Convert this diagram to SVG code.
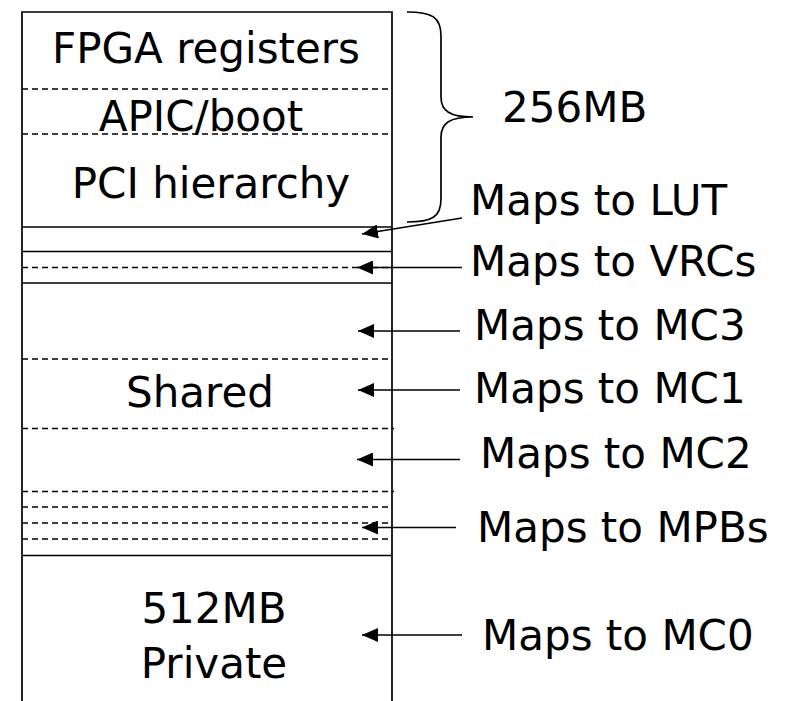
<svg xmlns="http://www.w3.org/2000/svg" width="787" height="701" viewBox="0 0 787 701">
<defs>
<style>
text{font-family:"DejaVu Sans","Liberation Sans",sans-serif;font-size:42px;fill:#000}
.solid{stroke:#000;stroke-width:1.7;fill:none}
.dash{stroke:#000;stroke-width:1.5;stroke-dasharray:6 4;fill:none}
.conn{stroke:#000;stroke-width:1.5;fill:none;marker-end:url(#ah)}
</style>
<marker id="ah" markerUnits="userSpaceOnUse" markerWidth="17" markerHeight="14" viewBox="0 0 17 14" refX="16" refY="7" orient="auto">
<path d="M0,0 L16,7 L0,14 Z" fill="#000"/>
</marker>
</defs>
<rect width="787" height="701" fill="#fff"/>
<g id="memory-map">
<path class="solid" d="M22,701 V12 H392 V701" stroke-width="2"/>
<line class="dash" x1="22" y1="89" x2="392" y2="89"/>
<line class="dash" x1="22" y1="134" x2="392" y2="134"/>
<line class="solid" x1="22" y1="227" x2="392" y2="227" stroke-width="2"/>
<line class="solid" x1="22" y1="251.5" x2="392" y2="251.5"/>
<line class="dash" x1="22" y1="267.5" x2="392" y2="267.5"/>
<line class="solid" x1="22" y1="283" x2="392" y2="283"/>
<line class="dash" x1="22" y1="359" x2="392" y2="359"/>
<line class="dash" x1="22" y1="428.5" x2="394" y2="428.5"/>
<line class="dash" x1="22" y1="491.5" x2="394" y2="491.5"/>
<line class="dash" x1="22" y1="507" x2="392" y2="507"/>
<line class="dash" x1="22" y1="523" x2="392" y2="523"/>
<line class="dash" x1="22" y1="539" x2="392" y2="539"/>
<line class="solid" x1="22" y1="555.5" x2="392" y2="555.5"/>
</g>
<g id="region-labels" text-anchor="middle">
<text id="fpga" x="206" y="63">FPGA registers</text>
<text id="apic" x="201" y="131">APIC/boot</text>
<text id="pci" x="211" y="198">PCI hierarchy</text>
<text id="shared" x="200" y="407">Shared</text>
<text id="private" x="214" y="623">512MB</text>
<text x="214" y="678">Private</text>
</g>
<g id="brace">
<path class="solid" d="M407,12 C432,12 441,17 441,36 L441,97 C441,111 450,117 473,117 C450,117 441,123 441,137 L441,199 C441,217 432,222 407,222"/>
<text x="502" y="122">256MB</text>
</g>
<g id="targets">
<text x="470" y="215">Maps to LUT</text>
<text x="470" y="276">Maps to VRCs</text>
<text x="474" y="340">Maps to MC3</text>
<text x="474" y="403">Maps to MC1</text>
<text x="480" y="468">Maps to MC2</text>
<text x="477" y="542">Maps to MPBs</text>
<text x="482" y="650">Maps to MC0</text>
</g>
<g id="connectors">
<line class="conn" x1="462" y1="218" x2="362" y2="234"/>
<line class="conn" x1="462" y1="267.5" x2="357" y2="267.5"/>
<line class="conn" x1="460" y1="331" x2="358" y2="331"/>
<line class="conn" x1="460" y1="390" x2="358" y2="390"/>
<line class="conn" x1="460" y1="459.5" x2="357" y2="459.5"/>
<line class="conn" x1="456" y1="527.5" x2="362" y2="527.5"/>
<line class="conn" x1="462" y1="635" x2="362" y2="635"/>
</g>
</svg>
